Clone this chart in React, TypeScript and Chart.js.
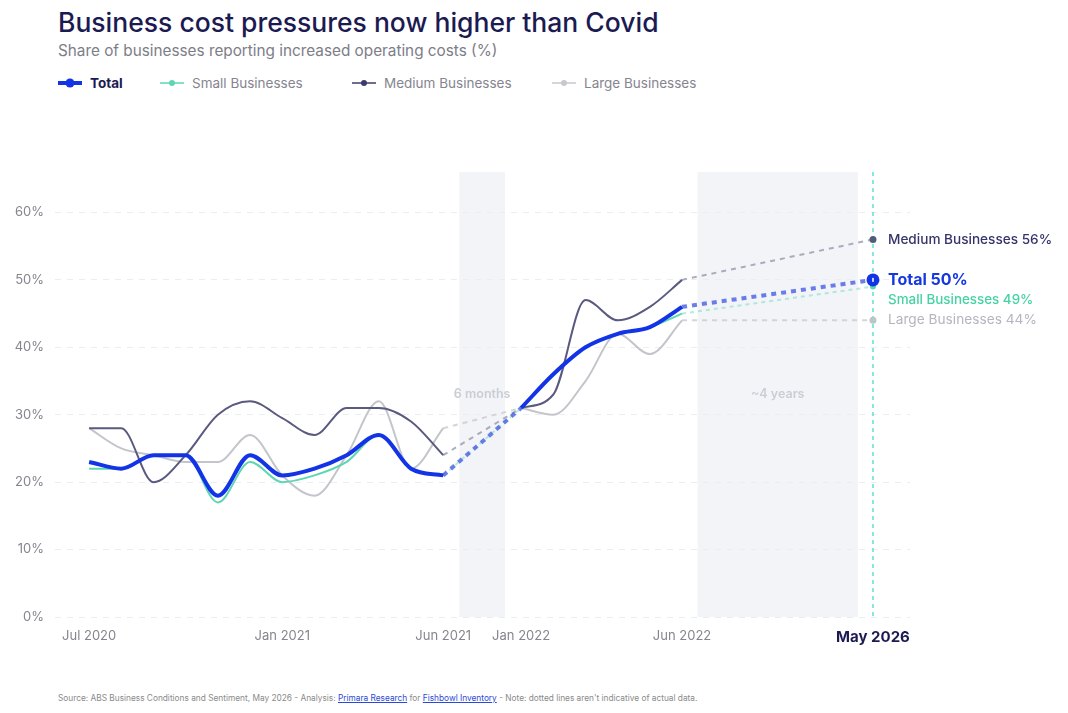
import { useEffect, useRef } from 'react';
import { Chart, registerables } from 'chart.js';

Chart.register(...registerables);

const FONT = 'Inter, "Noto Sans", "DejaVu Sans", sans-serif';

// Survey months shown on the chart
const months = [
  'Jul 2020', 'Aug 2020', 'Sep 2020', 'Oct 2020', 'Nov 2020', 'Dec 2020',
  'Jan 2021', 'Feb 2021', 'Mar 2021', 'Apr 2021', 'May 2021', 'Jun 2021',
  'Jan 2022', 'Feb 2022', 'Mar 2022', 'Apr 2022', 'May 2022', 'Jun 2022',
  'May 2026',
];

// Position of each month along the (compressed) time axis
const slots = [
  0, 1, 2, 3, 4, 5, 6, 7, 8, 9, 10, 11,
  13.42, 14.42, 15.42, 16.42, 17.42, 18.42,
  24.35,
];

// Share of businesses reporting increased operating costs (%)
const totalValues = [23, 22, 24, 24, 18, 24, 21, 22, 24, 27, 22, 21, 31, 36, 40, 42, 43, 46, 50];
const smallValues = [22, 22, 24, 24, 17, 23, 20, 21, 23, 27, 22, 21, 31, 36, 40, 42, 43, 45, 49];
const mediumValues = [28, 28, 20, 24, 30, 32, 29.5, 27, 31, 31, 29, 24, 31, 33, 47, 44, 46, 50, 56];
const largeValues = [28, 25, 24, 23, 23, 27, 21, 18, 24, 32, 22, 28, 31, 30, 35, 42, 39, 44, 44];

// Labelled months on the x axis
const tickMonths = ['Jul 2020', 'Jan 2021', 'Jun 2021', 'Jan 2022', 'Jun 2022', 'May 2026'];
const yTicks = [0, 10, 20, 30, 40, 50, 60];

// Stretches of time with no plotted survey data
const gapLabels = ['6 months', '~4 years'];
const gapRanges = [[11.5, 12.92], [18.9, 23.88]];

// Index pairs joined by dotted bridge lines
const bridges = [[11, 12], [17, 18]];

const seriesNames = ['Total', 'Small Businesses', 'Medium Businesses', 'Large Businesses'];

const COLORS = {
  total: '#1234e6',
  totalDot: 'rgba(70,95,228,0.8)',
  small: '#5ed6b2',
  smallDot: 'rgba(120,220,190,0.55)',
  medium: '#5a5a80',
  mediumDot: 'rgba(150,153,176,0.8)',
  large: '#c3c5cb',
  largeDot: 'rgba(200,202,208,0.8)',
  navy: '#1b1b52',
  grey: '#85858f',
};

const slotOf = (m: string) => slots[months.indexOf(m)];

// Solid runs: every observed month, broken across each gap
function solidData(values: number[]) {
  const out: { x: number; y: number | null }[] = [];
  for (let i = 0; i < values.length - 1; i++) {
    if (i === bridges[0][1]) out.push({ x: (slots[i - 1] + slots[i]) / 2, y: null });
    out.push({ x: slots[i], y: values[i] });
  }
  return out;
}

// Dotted runs: straight joins across each gap
function bridgeData(values: number[]) {
  const out: { x: number; y: number | null }[] = [];
  bridges.forEach(([a, b], k) => {
    if (k > 0) out.push({ x: (slots[bridges[k - 1][1]] + slots[a]) / 2, y: null });
    out.push({ x: slots[a], y: values[a] });
    out.push({ x: slots[b], y: values[b] });
  });
  return out;
}

const endLabels = [
  { text: `Medium Businesses ${mediumValues[mediumValues.length - 1]}%`, ds: 5, color: '#34346a', font: `500 13.6px ${FONT}`, dy: 0 },
  { text: `Total ${totalValues[totalValues.length - 1]}%`, ds: 1, color: '#1638e0', font: `700 16px ${FONT}`, dy: 0 },
  { text: `Small Businesses ${smallValues[smallValues.length - 1]}%`, ds: 3, color: '#45d3a4', font: `500 13.4px ${FONT}`, dy: 13 },
  { text: `Large Businesses ${largeValues[largeValues.length - 1]}%`, ds: 7, color: '#b3b6bf', font: `400 13.7px ${FONT}`, dy: 0 },
];

const decorPlugin = {
  id: 'decor',
  beforeDraw(chart: any) {
    const { ctx, chartArea: a, scales } = chart;
    const x = scales.x;
    ctx.save();
    gapRanges.forEach(([from, to], i) => {
      const x0 = x.getPixelForValue(from);
      const x1 = x.getPixelForValue(to);
      ctx.fillStyle = '#f3f4f8';
      ctx.fillRect(x0, a.top, x1 - x0, a.bottom - a.top);
      ctx.fillStyle = '#cacdd5';
      ctx.font = `600 12.5px ${FONT}`;
      ctx.textAlign = 'center';
      ctx.textBaseline = 'middle';
      ctx.fillText(gapLabels[i], (x0 + x1) / 2, (a.top + a.bottom) / 2);
    });
    ctx.restore();
  },
  beforeDatasetsDraw(chart: any) {
    const { ctx, chartArea: a, scales } = chart;
    const xp = scales.x.getPixelForValue(slotOf('May 2026'));
    ctx.save();
    ctx.strokeStyle = '#5fe0d2';
    ctx.lineWidth = 1.5;
    ctx.setLineDash([4, 4]);
    ctx.beginPath();
    ctx.moveTo(xp, a.top);
    ctx.lineTo(xp, a.bottom);
    ctx.stroke();
    ctx.restore();
  },
  afterDatasetsDraw(chart: any) {
    const { ctx } = chart;
    ctx.save();
    ctx.textAlign = 'left';
    ctx.textBaseline = 'middle';
    for (const l of endLabels) {
      const meta = chart.getDatasetMeta(l.ds);
      const pt = meta.data[meta.data.length - 1];
      ctx.font = l.font;
      ctx.fillStyle = l.color;
      ctx.fillText(l.text, pt.x + 15, pt.y + l.dy);
    }
    // small white mark inside the Total end point
    const tm = chart.getDatasetMeta(1);
    const tp = tm.data[tm.data.length - 1];
    ctx.fillStyle = '#ffffff';
    ctx.fillRect(tp.x - 0.75, tp.y - 2, 1.5, 4);
    ctx.restore();
  },
};

function makeSeries(label: string, values: number[], color: string, dotColor: string, width: number, dash: number[], pointR: number, pointColor: string) {
  const bridge = bridgeData(values);
  const last = bridge.length - 1;
  return [
    {
      label,
      data: solidData(values),
      borderColor: color,
      borderWidth: width,
      cubicInterpolationMode: 'monotone' as const,
      spanGaps: false,
      pointRadius: 0,
      pointHoverRadius: 0,
      fill: false,
    },
    {
      label: `${label} (dotted)`,
      data: bridge,
      borderColor: dotColor,
      borderWidth: width,
      borderDash: dash,
      tension: 0,
      spanGaps: false,
      pointRadius: (c: any) => (c.dataIndex === last ? pointR : 0),
      pointBackgroundColor: pointColor,
      pointBorderColor: pointColor,
      pointBorderWidth: 0,
      pointHoverRadius: 0,
      fill: false,
    },
  ];
}

function LegendMarker({ color, width, r }: { color: string; width: number; r: number }) {
  return (
    <svg width={24} height={12} style={{ display: 'block' }}>
      <line x1={0} y1={6} x2={24} y2={6} stroke={color} strokeWidth={width} />
      <circle cx={12} cy={6} r={r} fill={color} />
    </svg>
  );
}

const legendItems = [
  { name: seriesNames[0], left: 58, color: COLORS.total, width: 4, r: 4.5, text: COLORS.navy, weight: 700 },
  { name: seriesNames[1], left: 160, color: COLORS.small, width: 1.5, r: 3, text: COLORS.grey, weight: 400 },
  { name: seriesNames[2], left: 352, color: '#3c3c6c', width: 1.5, r: 3, text: COLORS.grey, weight: 400 },
  { name: seriesNames[3], left: 552, color: '#c6c8cd', width: 1.5, r: 3, text: COLORS.grey, weight: 400 },
];

export default function App() {
  const canvasRef = useRef<HTMLCanvasElement | null>(null);

  useEffect(() => {
    if (!canvasRef.current) return;
    const chart = new Chart(canvasRef.current, {
      type: 'line',
      data: {
        datasets: [
          ...makeSeries(seriesNames[0], totalValues, COLORS.total, COLORS.totalDot, 4, [5, 5], 6.5, COLORS.total),
          ...makeSeries(seriesNames[1], smallValues, COLORS.small, COLORS.smallDot, 2, [4, 4], 3, '#57d9b0'),
          ...makeSeries(seriesNames[2], mediumValues, COLORS.medium, COLORS.mediumDot, 2, [5, 5], 3.5, '#4f5d78'),
          ...makeSeries(seriesNames[3], largeValues, COLORS.large, COLORS.largeDot, 2, [5, 5], 3.5, '#b9c7cb'),
        ] as any,
      },
      options: {
        animation: false,
        responsive: false,
        maintainAspectRatio: false,
        layout: { padding: { top: 22, right: 158, left: 0, bottom: 0 } },
        plugins: {
          legend: { display: false },
          tooltip: { enabled: false },
        },
        scales: {
          x: {
            type: 'linear',
            min: -1.06,
            max: 25.5,
            grid: { display: false, drawTicks: false },
            border: { display: false },
            afterBuildTicks: (scale: any) => {
              scale.ticks = tickMonths.map((m) => ({ value: slotOf(m) }));
            },
            afterFit: (scale: any) => {
              scale.height = 40;
            },
            ticks: {
              autoSkip: false,
              maxRotation: 0,
              padding: 11,
              callback: (_v: any, i: number) => tickMonths[i],
              color: (c: any) => (c.index === tickMonths.length - 1 ? COLORS.navy : COLORS.grey),
              font: (c: any) =>
                c.index === tickMonths.length - 1
                  ? { family: FONT, size: 15, weight: 'bold' }
                  : { family: FONT, size: 13, weight: 'normal' },
            },
          },
          y: {
            type: 'linear',
            min: 0,
            max: 66,
            afterBuildTicks: (scale: any) => {
              scale.ticks = yTicks.map((v) => ({ value: v }));
            },
            afterFit: (scale: any) => {
              scale.width = 55;
            },
            grid: { color: '#ecedf2', lineWidth: 1, drawTicks: false },
            border: { display: false, dash: [6, 6] },
            ticks: {
              padding: 11,
              color: COLORS.grey,
              font: { family: FONT, size: 13 },
              callback: (v: any) => `${v}%`,
            },
          },
        },
      },
      plugins: [decorPlugin],
    });
    return () => chart.destroy();
  }, []);

  return (
    <div style={{ position: 'fixed', left: 0, top: 0, width: 1068, height: 713, background: '#fff', fontFamily: FONT, overflow: 'hidden' }}>
      <div style={{ position: 'absolute', left: 58, top: 6, fontSize: 26.5, lineHeight: '32px', fontWeight: 500, color: COLORS.navy, whiteSpace: 'nowrap' }}>
        Business cost pressures now higher than Covid
      </div>
      <div style={{ position: 'absolute', left: 58, top: 41, fontSize: 15.3, lineHeight: '20px', color: '#7d7d88', whiteSpace: 'nowrap' }}>
        Share of businesses reporting increased operating costs (%)
      </div>
      {legendItems.map((it) => (
        <div key={it.name} style={{ position: 'absolute', left: it.left, top: 73, height: 20, display: 'flex', alignItems: 'center', gap: 8, whiteSpace: 'nowrap' }}>
          <LegendMarker color={it.color} width={it.width} r={it.r} />
          <span style={{ fontSize: 13.5, lineHeight: '20px', color: it.text, fontWeight: it.weight }}>{it.name}</span>
        </div>
      ))}
      <canvas ref={canvasRef} width={1068} height={507} style={{ position: 'absolute', left: 0, top: 150, width: 1068, height: 507 }} />
      <div style={{ position: 'absolute', left: 58, top: 692, fontSize: 8.3, lineHeight: '12px', color: '#8a8a8a', whiteSpace: 'nowrap' }}>
        Source: ABS Business Conditions and Sentiment, May 2026 - Analysis:{' '}
        <span style={{ color: '#2b49d8', textDecoration: 'underline' }}>Primara Research</span> for{' '}
        <span style={{ color: '#2b49d8', textDecoration: 'underline' }}>Fishbowl Inventory</span> - Note: dotted lines aren't indicative of actual data.
      </div>
    </div>
  );
}
